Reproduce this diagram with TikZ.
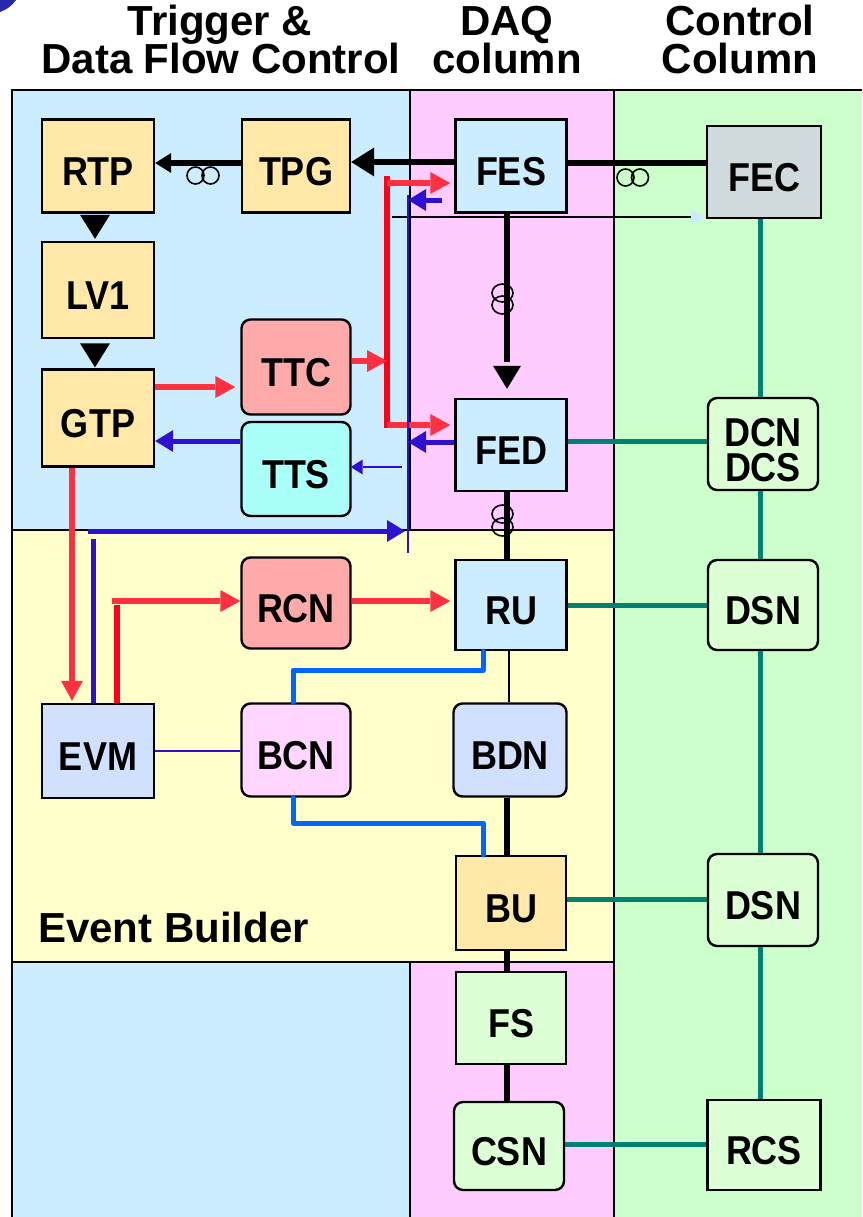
\documentclass[tikz,border=0pt]{standalone}
\usepackage{fontspec}
\setmainfont{Liberation Sans}
\usepackage{graphicx}
\usetikzlibrary{arrows.meta}
\definecolor{cBgBlue}{RGB}{204,236,255}
\definecolor{cBgPink}{RGB}{255,204,255}
\definecolor{cBgGreen}{RGB}{204,255,204}
\definecolor{cBgYellow}{RGB}{255,255,204}
\definecolor{cOrange}{RGB}{255,232,168}
\definecolor{cGrey}{RGB}{208,218,220}
\definecolor{cSalmon}{RGB}{255,170,170}
\definecolor{cCyan}{RGB}{170,255,248}
\definecolor{cLav}{RGB}{210,224,255}
\definecolor{cMag}{RGB}{255,214,255}
\definecolor{cLGreen}{RGB}{221,255,214}
\definecolor{cTeal}{RGB}{0,128,112}
\definecolor{cRedA}{RGB}{255,0,24}
\definecolor{cRedB}{RGB}{255,48,64}
\definecolor{cViolet}{RGB}{48,16,208}
\definecolor{cBright}{RGB}{0,102,255}
\definecolor{cLogo}{RGB}{40,40,170}
\newcommand\lblfont{\fontsize{36}{33}\selectfont\bfseries}
\newcommand\hdrfont{\fontsize{42}{42}\selectfont\bfseries}
\newcommand\lab[1]{\raisebox{-6pt}[\height][\depth]{\scalebox{1}[1.12]{#1}}}
\begin{document}
\begin{tikzpicture}[x=1pt,y=-1pt,
  box/.style={draw=black, line width=2.4pt, inner sep=0pt, align=center, font=\lblfont},
  rbox/.style={box, rounded corners=9pt},
  region/.style={line width=2.4pt, draw=black},
  hdr/.style={inner sep=0pt, font=\hdrfont},
  blk/.style={line width=5.5pt, draw=black},
  rline/.style={line width=5.5pt, draw=cRedB},
  rvert/.style={line width=5.5pt, draw=cRedA},
  rarrow/.style={rline, -{Triangle[length=20pt,width=22pt,line width=0pt]}},
  bline/.style={line width=5pt, draw=cViolet},
  barrow/.style={bline, -{Triangle[length=18pt,width=22pt,line width=0pt]}},
  bthin/.style={line width=2pt, draw=cViolet},
  bb/.style={line width=5pt, draw=cBright, line join=round, line cap=round},
  tl/.style={line width=5pt, draw=cTeal},
  coil/.style={line width=1.6pt, draw=black}]
\useasboundingbox (0,0) rectangle (862,1217);
\clip (0,0) rectangle (862,1217);
% backgrounds
\fill[cBgBlue] (12,90) rectangle (410,1217);
\fill[cBgPink] (410,90) rectangle (614,1217);
\fill[cBgGreen] (614,90) rectangle (862,1217);
\fill[cBgYellow] (12,530) rectangle (614,962);
\fill[cLogo] (0,0) -- (16,0) .. controls (12,6) and (6,10) .. (0,12) -- cycle;
\draw[region] (12,1217) -- (12,90) -- (862,90);
\draw[region] (410,90) -- (410,530);
\draw[region] (410,962) -- (410,1217);
\draw[region] (614,90) -- (614,1217);
\draw[region] (12,530) rectangle (614,962);
% headers
\node[hdr, anchor=base] (h1a) at (220,36) {Trigger \&};
\node[hdr, anchor=base] (h1b) at (221,74) {Data Flow Control};
\node[hdr, anchor=base] (h2a) at (507,36) {DAQ};
\node[hdr, anchor=base] (h2b) at (507,74) {column};
\node[hdr, anchor=base] (h3a) at (740,36) {Control};
\node[hdr, anchor=base] (h3b) at (740,74) {Column};
\node[hdr, anchor=base west] (eb) at (38,942) {Event Builder};
% nodes
\node[box, fill=cOrange, minimum width=112pt, minimum height=93pt] (RTP) at (98,166) {\lab{RTP}};
\node[box, fill=cOrange, minimum width=108pt, minimum height=93pt] (TPG) at (296,166) {\lab{TPG}};
\node[box, fill=cOrange, minimum width=112pt, minimum height=96pt] (LV1) at (98,290) {\lab{LV1}};
\node[box, fill=cOrange, minimum width=112pt, minimum height=97pt] (GTP) at (98,418) {\lab{GTP}};
\node[rbox, fill=cSalmon, minimum width=109pt, minimum height=95pt] (TTC) at (296,367) {\lab{TTC}};
\node[rbox, fill=cCyan, minimum width=109pt, minimum height=94pt] (TTS) at (296,469) {\lab{TTS}};
\node[box, fill=cBgBlue, minimum width=111pt, minimum height=93pt] (FES) at (511,166) {\lab{FES}};
\node[box, fill=cBgBlue, minimum width=111pt, minimum height=92pt] (FED) at (511,445) {\lab{FED}};
\node[box, fill=cGrey, minimum width=114pt, minimum height=92pt] (FEC) at (764,172) {\lab{FEC}};
\node[rbox, fill=cLGreen, minimum width=110pt, minimum height=92pt] (DCN) at (763,444) {\lab{DCN}\\[2pt]\lab{DCS}};
\node[box, fill=cBgBlue, minimum width=111pt, minimum height=90pt] (RU) at (511,605) {\lab{RU}};
\node[rbox, fill=cSalmon, minimum width=109pt, minimum height=91pt] (RCN) at (296,603) {\lab{RCN}};
\node[rbox, fill=cLGreen, minimum width=110pt, minimum height=90pt] (DSN1) at (763,605) {\lab{DSN}};
\node[box, fill=cLav, minimum width=112pt, minimum height=94pt] (EVM) at (98,751) {\lab{EVM}};
\node[rbox, fill=cMag, minimum width=109pt, minimum height=93pt] (BCN) at (296,750) {\lab{BCN}};
\node[rbox, fill=cLav, minimum width=113pt, minimum height=93pt] (BDN) at (510,750) {\lab{BDN}};
\node[box, fill=cOrange, minimum width=110pt, minimum height=94pt] (BU) at (511,903) {\lab{BU}};
\node[rbox, fill=cLGreen, minimum width=110pt, minimum height=92pt] (DSN2) at (763,900) {\lab{DSN}};
\node[box, fill=cLGreen, minimum width=110pt, minimum height=92pt] (FS) at (511,1018) {\lab{FS}};
\node[rbox, fill=cLGreen, minimum width=110pt, minimum height=88pt] (CSN) at (509,1146) {\lab{CSN}};
\node[box, fill=cLGreen, minimum width=113pt, minimum height=90pt] (RCS) at (764,1145) {\lab{RCS}};
% coordinates
\coordinate (rbx) at (387,0);
\coordinate (bus) at (408,0);
\coordinate (tx) at (760,0);
% black data path
\draw[blk,-{Triangle[length=23pt,width=29pt,line width=0pt]}] ([yshift=4pt]FES.west) -- ([yshift=4pt]TPG.east);
\draw[blk,-{Triangle[length=16pt,width=20pt,line width=0pt]}] ([yshift=3pt]TPG.west) -- ([yshift=3pt]RTP.east);
\draw[blk] ([yshift=3pt]FES.east) -- ([yshift=9pt]FEC.west);
\coordinate (thin0) at (392,217);
\draw[line width=1.6pt,-{Triangle[length=15pt,width=16pt,line width=0pt,color=cBgBlue]}] (thin0) -- (thin0 -| FEC.west);
\draw[blk] ([xshift=-4pt]FES.south) -- ++(0,148);
\fill[black] ([xshift=-4pt]FED.north) ++(0,-9) -- ++(-14,-23) -- ++(28,0) -- cycle;
\draw[blk] ([xshift=-4pt]FED.south) -- ([xshift=-4pt]RU.north);
\draw[line width=2pt] ([xshift=-2pt]RU.south) -- ([xshift=-1pt]BDN.north);
\draw[blk] ([xshift=-3pt]BDN.south) -- ([xshift=-4pt]BU.north);
\draw[blk] ([xshift=-4pt]BU.south) -- ([xshift=-4pt]FS.north);
\draw[blk] ([xshift=-4pt]FS.south) -- ([xshift=-2pt]CSN.north);
\fill[black] ([xshift=-3pt]LV1.north) ++(0,-2) -- ++(-15,-24) -- ++(30,0) -- cycle;
\fill[black] ([xshift=-3pt]GTP.north) ++(0,-1) -- ++(-15,-24) -- ++(30,0) -- cycle;
% coils
\draw[coil] (195.5,175.5) circle[radius=8.5] (210.5,175.5) circle[radius=8.5];
\draw[coil] (625.5,177.5) circle[radius=8.5] (640,177.5) circle[radius=8.5];
\draw[coil] (502.5,293) ellipse[x radius=10.5, y radius=9] (502.5,305) ellipse[x radius=10.5, y radius=9];
\draw[coil] (502.5,514) ellipse[x radius=10.5, y radius=9] (502.5,527) ellipse[x radius=10.5, y radius=9];
% teal control links
\draw[tl] (FEC.south -| tx) -- (DCN.north -| tx);
\draw[tl] (DCN.south -| tx) -- (DSN1.north -| tx);
\draw[tl] (DSN1.south -| tx) -- (DSN2.north -| tx);
\draw[tl] (DSN2.south -| tx) -- (RCS.north -| tx);
\coordinate (q1) at ([yshift=4pt]FED.east);
\draw[tl] (q1) -- (q1 -| DCN.west);
\draw[tl] (RU.east) -- (RU.east -| DSN1.west);
\coordinate (q2) at ([yshift=4pt]BU.east);
\draw[tl] (q2) -- (q2 -| DSN2.west);
\coordinate (q3) at ([yshift=2pt]CSN.east);
\draw[tl] (q3) -- (q3 -| RCS.west);
% red trigger links
\draw[rvert] (387,176) -- (387,428);
\coordinate (rt) at (387,183);
\draw[rarrow, shorten >=4pt] (rt) -- (rt -| FES.west);
\coordinate (rb) at (387,425);
\draw[rarrow, shorten >=4pt] (rb) -- (rb -| FED.west);
\coordinate (ttcout) at ([yshift=6pt]TTC.east);
\draw[rarrow] (ttcout) -- (ttcout -| rbx);
\coordinate (g1) at ([yshift=31pt]GTP.east);
\draw[rarrow, shorten >=5pt] (g1) -- (g1 -| TTC.west);
\coordinate (g2) at ([xshift=-26pt]GTP.south);
\draw[rarrow, shorten >=2pt] (g2) -- (g2 |- EVM.north);
\coordinate (e1) at ([xshift=19pt]EVM.north);
\draw[rvert] (e1) -- ++(0,-98);
\coordinate (e0) at (112,601);
\draw[rarrow] (e0) -- (e0 -| RCN.west);
\coordinate (r2) at ([yshift=2pt]RCN.east);
\draw[rarrow, shorten >=4pt] (r2) -- (r2 -| RU.west);
% blue status links
\draw[bthin] (408,195) -- (408,553);
\coordinate (f1) at ([yshift=-34pt]FES.west);
\draw[barrow, shorten <=12pt] (f1) -- (f1 -| bus);
\coordinate (f2) at ([yshift=3pt]FED.west);
\draw[barrow] (f2) -- (f2 -| bus);
\coordinate (t1) at (402,467);
\draw[bthin, -{Triangle[length=12pt,width=15pt,line width=0pt]}, shorten >=-1pt] (t1) -- (t1 -| TTS.east);
\coordinate (t2) at ([yshift=28pt]TTS.west);
\draw[barrow] (t2) -- (t2 -| GTP.east);
\coordinate (e2) at ([xshift=-5pt]EVM.north);
\draw[bline] (e2) -- ++(0,-164);
\coordinate (h1) at (88,531);
\draw[barrow, shorten >=3pt] (h1) -- (h1 -| bus);
\draw[bthin] (EVM.east) -- (EVM.east -| BCN.west);
% bright blue builder control
\coordinate (c1) at ([xshift=-3pt]BCN.north);
\coordinate (c3) at (483,670);
\coordinate (c2) at ([xshift=-28pt]RU.south);
\draw[bb] (c1) |- (c3) -- (c2);
\coordinate (c4) at ([xshift=-3pt]BCN.south);
\coordinate (c5) at (483,823);
\coordinate (c6) at ([xshift=-28pt]BU.north);
\draw[bb] (c4) |- (c5) -- (c6);
\end{tikzpicture}
\end{document}
